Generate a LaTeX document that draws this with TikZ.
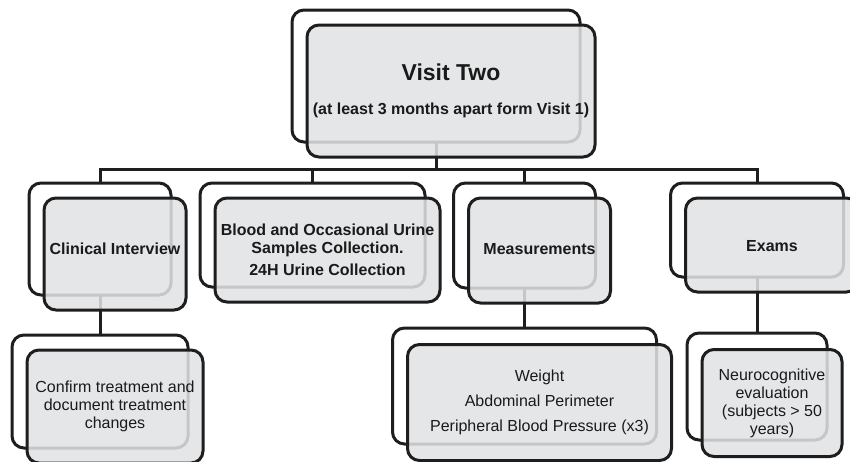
\documentclass[tikz,border=0pt]{standalone}
\usepackage{fontspec}
\setmainfont{Liberation Sans}
\definecolor{lineblk}{HTML}{1E1E1E}
\definecolor{frontgray}{HTML}{E1E2E4}
\definecolor{txt}{HTML}{1A1A1A}
\begin{document}
\begin{tikzpicture}[x=1pt,y=-1pt,
  backbox/.style 2 args={draw=lineblk, line width=3pt, rounded corners=12pt, fill=white,
    minimum width=#1, minimum height=#2, inner sep=0pt, outer sep=0pt},
  frontbox/.style 2 args={draw=lineblk, line width=3pt, rounded corners=12pt, fill=frontgray,
    fill opacity=0.86, draw opacity=1, text opacity=1, text=txt,
    minimum width=#1, minimum height=#2, inner sep=0pt, outer sep=0pt, align=center},
  conn/.style={draw=lineblk, line width=3pt},
  bld/.style={font=\fontsize{16}{18}\selectfont\bfseries},
  reg/.style={font=\fontsize{16}{18}\selectfont}]
\useasboundingbox (0,0) rectangle (850,461);
\clip (0,0) rectangle (850,461);
\fill[white] (0,0) rectangle (850,461);

% back boxes
\node[backbox={288pt}{132pt}] (topb) at (436,76) {};
\node[backbox={142pt}{112pt}] (cib) at (100,239) {};
\node[backbox={225pt}{104pt}] (blb) at (312.5,235) {};
\node[backbox={142pt}{105pt}] (meb) at (524.5,235.5) {};
\node[backbox={173pt}{94pt}] (exb) at (757,230) {};
\node[backbox={176pt}{113pt}] (cfb) at (100,391.5) {};
\node[backbox={264pt}{116pt}] (wtb) at (524.5,386) {};
\node[backbox={140pt}{107pt}] (nrb) at (757,386.5) {};

% connectors
\coordinate (bus) at (0,169);
\draw[conn] (topb.south) -- (topb.south |- bus);
\draw[conn] (cib.north) -- (cib.north |- bus) -- (exb.north |- bus) -- (exb.north);
\draw[conn] (blb.north |- bus) -- (blb.north);
\draw[conn] (meb.north |- bus) -- (meb.north);
\draw[conn] (cib.south) -- (cfb.north);
\draw[conn] (meb.south) -- (wtb.north);
\draw[conn] (exb.south) -- (nrb.north);

% front boxes
\node[frontbox={288pt}{132pt}] (topf) at (451,91)
  {{\fontsize{23}{26}\selectfont\bfseries Visit Two}\\[22pt]
   {\fontsize{16}{18}\selectfont\bfseries (at least 3 months apart form Visit 1)}};
\node[frontbox={142pt}{112pt}, bld, text depth=10pt] (cif) at (115,254) {Clinical Interview};
\node[frontbox={225pt}{104pt}, bld] (blf) at (327.5,250)
  {Blood and Occasional Urine\\Samples Collection.\\[4pt]24H Urine Collection};
\node[frontbox={142pt}{105pt}, bld, text depth=4pt] (mef) at (539.5,250.5) {Measurements};
\node[frontbox={173pt}{94pt}, bld, text height=14pt] (exf) at (772,245) {Exams};
\node[frontbox={176pt}{113pt}, reg] (cff) at (115,406.5)
  {Confirm treatment and\\document treatment\\changes};
\node[frontbox={264pt}{116pt}, reg] (wtf) at (539.5,402.5)
  {Weight\\[7pt]Abdominal Perimeter\\[7pt]Peripheral Blood Pressure (x3)};
\node[frontbox={140pt}{107pt}, reg] (nrf) at (772,403)
  {Neurocognitive\\evaluation\\(subjects > 50\\years)};
\end{tikzpicture}
\end{document}
